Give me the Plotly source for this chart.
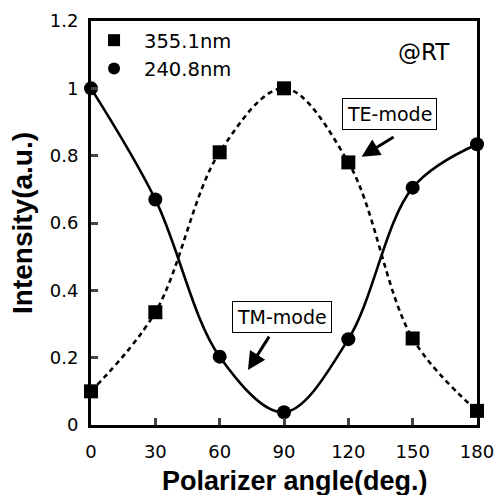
import plotly.graph_objects as go

angles = [0, 30, 60, 90, 120, 150, 180]
te_355 = [0.10, 0.335, 0.81, 1.0, 0.78, 0.257, 0.042]
tm_240 = [1.0, 0.67, 0.203, 0.038, 0.255, 0.705, 0.834]
x_ticks = [0, 30, 60, 90, 120, 150, 180]
y_ticks = [0, 0.2, 0.4, 0.6, 0.8, 1.0, 1.2]
y_labels = ["0", "0.2", "0.4", "0.6", "0.8", "1", "1.2"]

FONT = "DejaVu Sans"
TFONT = "Liberation Sans"

fig = go.Figure()
# curves
fig.add_trace(go.Scatter(x=angles, y=te_355, mode="lines", line=dict(shape="spline", color="black", width=2.6, dash="5px,4px"),
                         showlegend=False, hoverinfo="skip", cliponaxis=False))
fig.add_trace(go.Scatter(x=angles, y=tm_240, mode="lines", line=dict(shape="spline", color="black", width=2.6),
                         showlegend=False, hoverinfo="skip", cliponaxis=False))
# markers
fig.add_trace(go.Scatter(x=angles, y=te_355, mode="markers", name="355.1nm",
                         marker=dict(symbol="square", size=14, color="black"), cliponaxis=False))
fig.add_trace(go.Scatter(x=angles, y=tm_240, mode="markers", name="240.8nm",
                         marker=dict(symbol="circle", size=14, color="black"), cliponaxis=False))

fig.update_layout(
    width=494, height=495,
    margin=dict(l=91, r=17, t=21, b=70, autoexpand=False),
    paper_bgcolor="white", plot_bgcolor="white",
    font=dict(family=FONT, color="black", size=18),
    legend=dict(x=-0.018, y=1.0, xanchor="left", yanchor="top", bgcolor="rgba(0,0,0,0)",
                font=dict(size=19.5), itemsizing="constant", itemwidth=50, tracegroupgap=0),
    annotations=[
        dict(x=(424 - 91) / 386, y=(425 - 52) / 404, xref="paper", yref="paper", text="@RT", showarrow=False,
             xanchor="center", yanchor="middle", font=dict(size=23)),
        dict(x=139.4, y=0.924, text="TE-mode", showarrow=False, bordercolor="black", borderwidth=1,
             borderpad=4, bgcolor="white", font=dict(size=19)),
        dict(x=126.2, y=0.797, ax=141.8, ay=0.858, axref="x", ayref="y", text="", showarrow=True,
             arrowhead=2, arrowsize=1.2, arrowwidth=3, arrowcolor="black"),
        dict(x=89.1, y=0.322, text="TM-mode", showarrow=False, bordercolor="black", borderwidth=1,
             borderpad=4, bgcolor="white", font=dict(size=19)),
        dict(x=73.2, y=0.163, ax=83.5, ay=0.267, axref="x", ayref="y", text="", showarrow=True,
             arrowhead=2, arrowsize=1.2, arrowwidth=3, arrowcolor="black"),
        # axis titles
        dict(x=(295 - 91) / 386, y=(425 - 481) / 404, xref="paper", yref="paper",
             text="<b>Polarizer angle(deg.)</b>", showarrow=False, xanchor="center", yanchor="middle",
             font=dict(family=TFONT, size=27)),
        dict(x=(22 - 91) / 386, y=0.5, xref="paper", yref="paper", textangle=-90,
             text="<b>Intensity(a.u.)</b>", showarrow=False, xanchor="center", yanchor="middle",
             font=dict(family=TFONT, size=28)),
    ],
)
fig.update_xaxes(range=[0, 180], tickvals=x_ticks, ticks="inside", ticklen=7, tickwidth=2.5,
                 showline=True, linewidth=3, linecolor="black", mirror=True, showgrid=False, zeroline=False,
                 tickfont=dict(size=18), automargin=False, ticklabeloverflow="allow", ticklabelstandoff=8)
fig.update_yaxes(range=[0, 1.2], tickvals=y_ticks, ticktext=y_labels, ticks="inside", ticklen=7, tickwidth=2.5,
                 showline=True, linewidth=3, linecolor="black", mirror=True, showgrid=False, zeroline=False,
                 tickfont=dict(size=18), automargin=False, ticklabeloverflow="allow", ticklabelstandoff=6)

fig.write_html("out.html", config={"displayModeBar": False},
               post_script="document.body.style.margin='0px';document.body.style.overflow='hidden';")
